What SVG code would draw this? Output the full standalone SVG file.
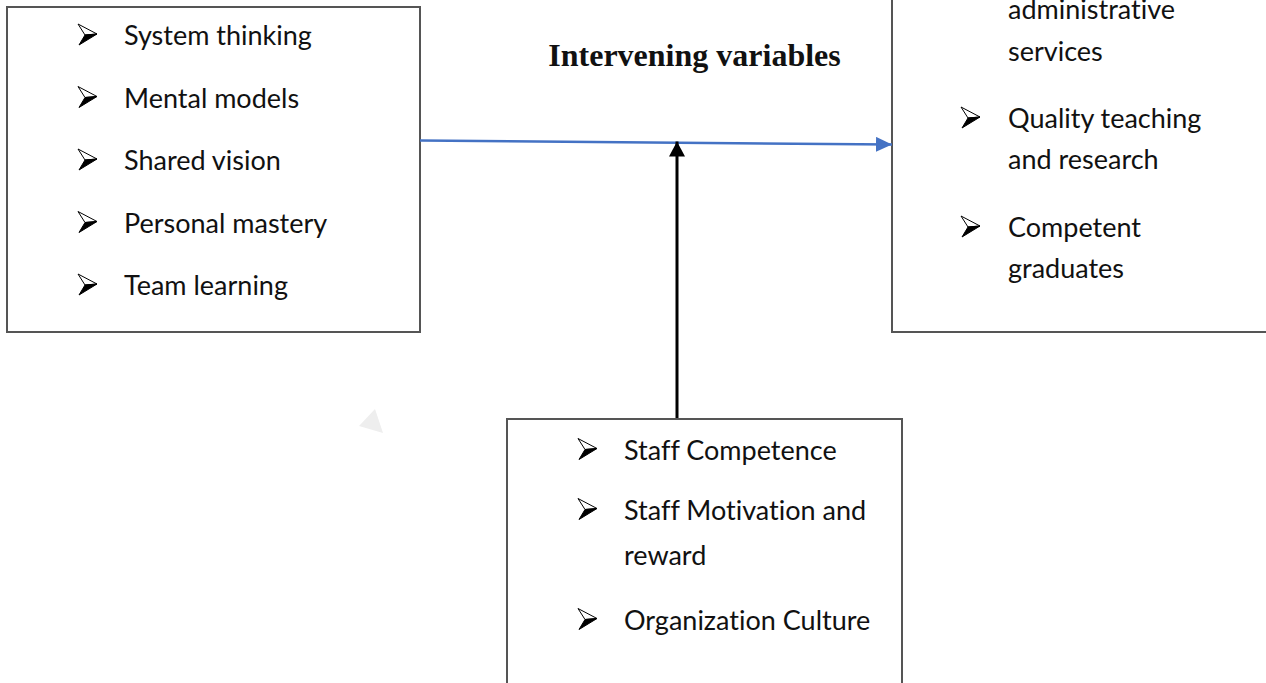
<svg xmlns="http://www.w3.org/2000/svg" width="1266" height="683" viewBox="0 0 1266 683">
  <style>
    .box { fill: #ffffff; stroke: #555555; stroke-width: 2; }
    .item { font-family: Lato, "Open Sans", "Liberation Sans", sans-serif; font-size: 27px; fill: #111111; font-variant-ligatures: none; }
    .title { font-family: "Liberation Serif", "Times New Roman", serif; font-weight: bold; font-size: 32px; fill: #111111; }
    .flow { fill: none; stroke: #4472c4; stroke-width: 2.5; }
    .push { fill: none; stroke: #000000; stroke-width: 3; }
  </style>
  <defs>
    <!-- Wingdings-style arrowhead bullet, tip at the origin -->
    <g id="bullet">
      <path d="M-19,-10 L0,0 L-12,1 Z" fill="#ffffff" stroke="#000000" stroke-width="1"/>
      <path d="M-12,1 L0,0 L-18,11 Z" fill="#000000" stroke="#000000" stroke-width="1" stroke-linejoin="round"/>
    </g>
    <marker id="headBlue" markerUnits="userSpaceOnUse" markerWidth="16" markerHeight="15" refX="16" refY="7.5" orient="auto">
      <path d="M0,0 L16,7.5 L0,15 Z" fill="#4472c4"/>
    </marker>
    <marker id="headBlack" markerUnits="userSpaceOnUse" markerWidth="16" markerHeight="16" refX="15" refY="8" orient="auto">
      <path d="M0,0 L15,8 L0,16 Z" fill="#000000"/>
    </marker>
  </defs>

  <rect width="1266" height="683" fill="#ffffff"/>

  <!-- faint stray mark -->
  <polygon points="375,409 359,426 383,433" fill="#eeeeee"/>

  <!-- independent variables -->
  <g id="independent">
    <rect class="box" x="7" y="7" width="413" height="325"/>
    <use href="#bullet" x="97" y="34"/>
    <text class="item" x="124" y="45">System thinking</text>
    <use href="#bullet" x="97" y="96.5"/>
    <text class="item" x="124" y="107.5">Mental models</text>
    <use href="#bullet" x="97" y="159"/>
    <text class="item" x="124" y="170">Shared vision</text>
    <use href="#bullet" x="97" y="221.5"/>
    <text class="item" x="124" y="232.5">Personal mastery</text>
    <use href="#bullet" x="97" y="284"/>
    <text class="item" x="124" y="295">Team learning</text>
  </g>

  <!-- dependent variables -->
  <g id="dependent">
    <rect class="box" x="892" y="-10" width="400" height="342"/>
    <text class="item" x="1008" y="19">administrative</text>
    <text class="item" x="1008" y="60.5">services</text>
    <use href="#bullet" x="980" y="117"/>
    <text class="item" x="1008" y="127.5">Quality teaching</text>
    <text class="item" x="1008" y="169">and research</text>
    <use href="#bullet" x="980" y="226"/>
    <text class="item" x="1008" y="236.5">Competent</text>
    <text class="item" x="1008" y="277.5">graduates</text>
  </g>

  <!-- intervening variables -->
  <g id="intervening">
    <text class="title" x="694.5" y="66" text-anchor="middle">Intervening variables</text>
    <rect class="box" x="507" y="419" width="395" height="300"/>
    <use href="#bullet" x="597" y="448.5"/>
    <text class="item" x="624" y="459.5">Staff Competence</text>
    <use href="#bullet" x="597" y="508.5"/>
    <text class="item" x="624" y="519.5">Staff Motivation and</text>
    <text class="item" x="624" y="564.5">reward</text>
    <use href="#bullet" x="597" y="618.5"/>
    <text class="item" x="624" y="629.5">Organization Culture</text>
  </g>

  <!-- connectors -->
  <g id="connectors">
    <line class="flow" x1="420" y1="140.5" x2="892" y2="144.5" marker-end="url(#headBlue)"/>
    <line class="push" x1="677" y1="418" x2="677" y2="141.5" marker-end="url(#headBlack)"/>
  </g>
</svg>
